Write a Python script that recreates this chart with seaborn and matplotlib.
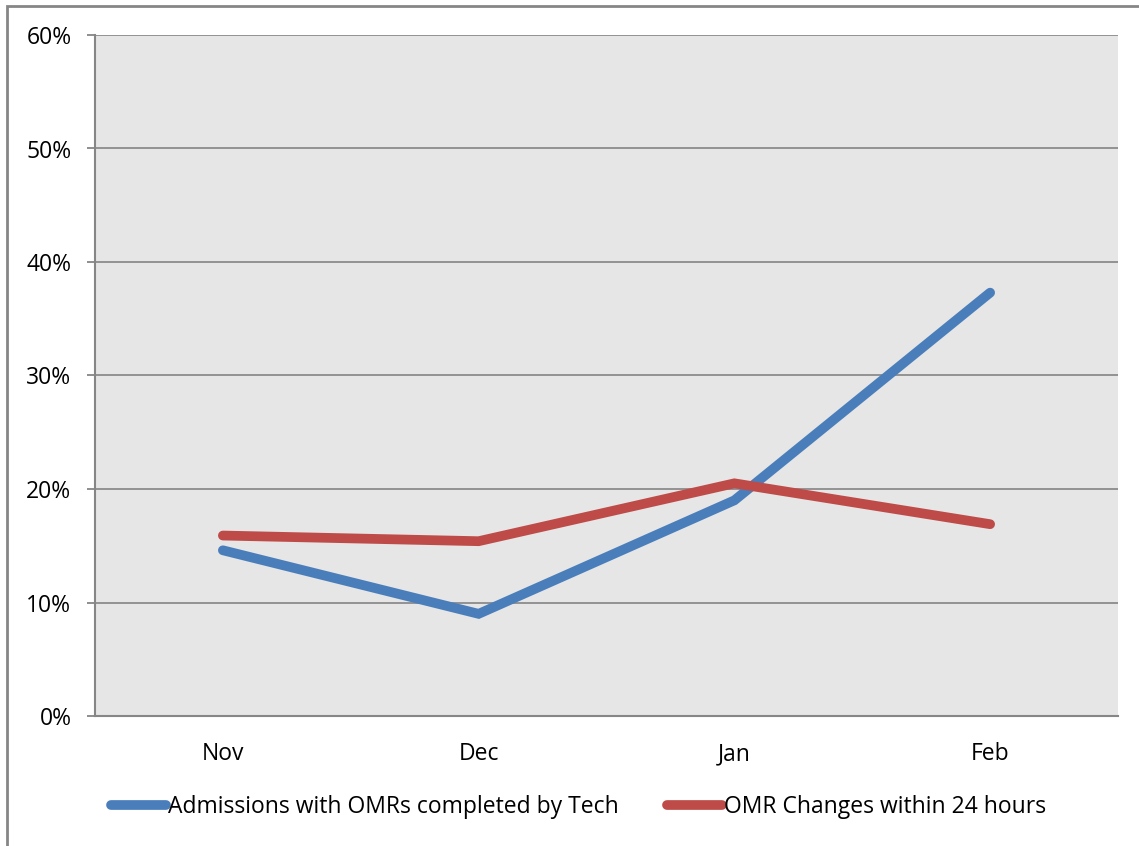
import matplotlib
matplotlib.use("Agg")
import matplotlib.pyplot as plt
import seaborn as sns
import pandas as pd
from matplotlib.patches import Rectangle
from matplotlib.lines import Line2D
from matplotlib.ticker import FixedLocator, PercentFormatter

months = ["Nov", "Dec", "Jan", "Feb"]
admissions_tech = [14.6, 9.0, 19.0, 37.3]
omr_changes_24h = [15.9, 15.4, 20.5, 16.9]
series_names = ["Admissions with OMRs completed by Tech", "OMR Changes within 24 hours"]
y_ticks = [0, 10, 20, 30, 40, 50, 60]

df = pd.DataFrame({
    "pos": list(range(len(months))) * 2,
    "value": admissions_tech + omr_changes_24h,
    "series": [series_names[0]] * len(months) + [series_names[1]] * len(months),
})

sns.set_theme(style="white")
plt.rcParams["font.family"] = ["Open Sans", "DejaVu Sans"]
plt.rcParams["text.color"] = "black"
plt.rcParams["xtick.color"] = "black"
plt.rcParams["ytick.color"] = "black"

fig = plt.figure(figsize=(11.39, 8.46), dpi=100)
ax = fig.add_axes([95 / 1139, 1 - 716 / 846, (1118 - 95) / 1139, (716 - 35) / 846])
ax.set_facecolor("#E6E6E6")

palette = {series_names[0]: "#4A7EBB", series_names[1]: "#BE4B48"}
sns.lineplot(data=df, x="pos", y="value", hue="series", palette=palette,
             linewidth=7, ax=ax, solid_capstyle="round", solid_joinstyle="miter",
             legend=False)

ax.set_xlim(-0.5, len(months) - 0.5)
ax.set_ylim(0, 60)
ax.set_yticks(y_ticks)
ax.yaxis.set_major_formatter(PercentFormatter(decimals=0))
ax.set_xticks(range(len(months)))
ax.set_xticklabels(months)
ax.xaxis.set_minor_locator(FixedLocator([i - 0.5 for i in range(len(months) + 1)]))
ax.tick_params(axis="x", which="major", length=0, pad=19, labelsize=16.5, labelcolor="black")
ax.tick_params(axis="x", which="minor", length=6, width=1.3, color="#868686", direction="out")
ax.tick_params(axis="y", which="major", length=6, width=1.3, color="#868686",
               direction="out", labelsize=16.5, labelcolor="black", pad=11, left=True)
ax.set_xlabel("")
ax.set_ylabel("")
ax.grid(axis="y", color="#8C8C8C", linewidth=1.3)
ax.set_axisbelow(True)
for side in ["top", "right"]:
    ax.spines[side].set_visible(False)
for side in ["left", "bottom"]:
    ax.spines[side].set_color("#868686")
    ax.spines[side].set_linewidth(1.5)

handles = [Line2D([0], [0], color=palette[n], lw=7, solid_capstyle="round") for n in series_names]
leg = fig.legend(handles, series_names, loc="center", bbox_to_anchor=(0.508, 1 - 807 / 846),
                 ncol=2, frameon=False, fontsize=16.5, handlelength=2.4, handletextpad=0.1,
                 columnspacing=2.1)
for t in leg.get_texts():
    t.set_color("black")

fig.patches.append(Rectangle((7 / 1139, -0.01), 1.02, 1 - 6 / 846 + 0.01,
                             transform=fig.transFigure, fill=False,
                             edgecolor="#868686", linewidth=2))

fig.savefig("out.png", dpi=100)
